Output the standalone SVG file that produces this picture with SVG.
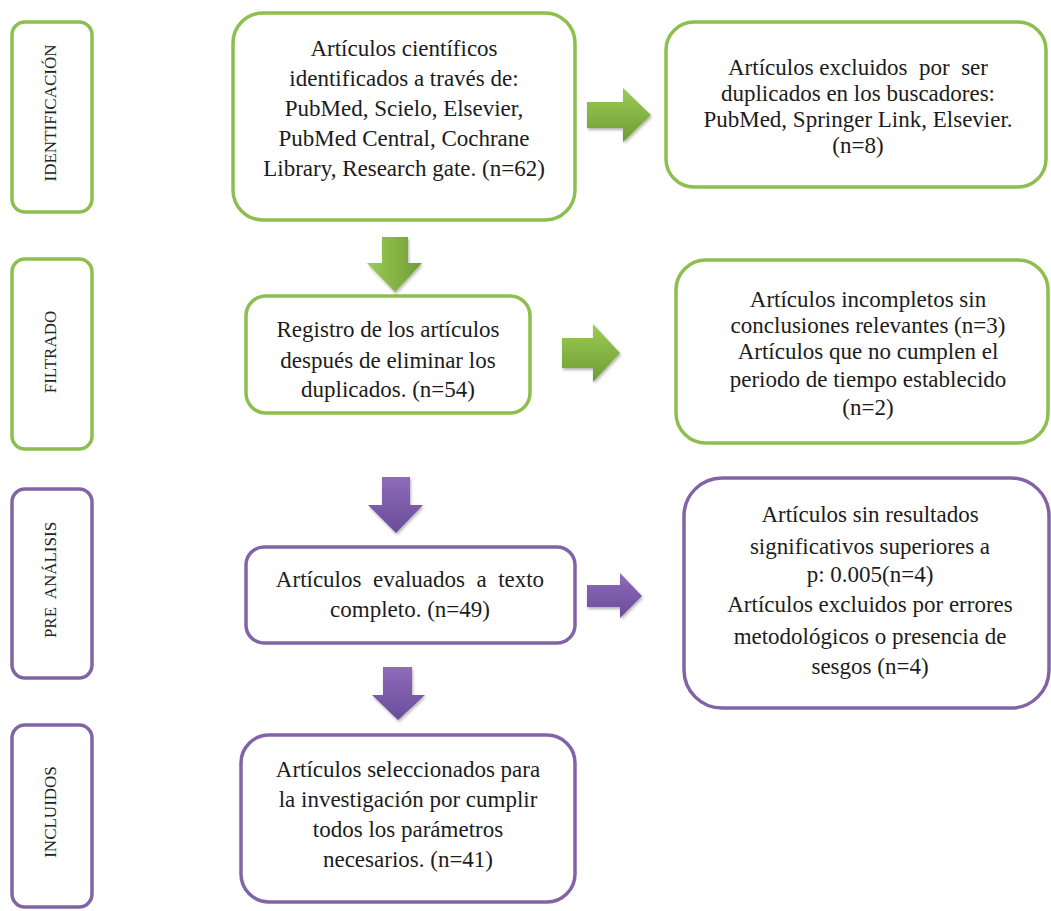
<svg xmlns="http://www.w3.org/2000/svg" width="1051" height="911" viewBox="0 0 1051 911">
<defs>
<linearGradient id="gG" x1="0" y1="0" x2="0" y2="1"><stop offset="0" stop-color="#9ccb55"/><stop offset="1" stop-color="#6f9c33"/></linearGradient>
<linearGradient id="gGd" x1="0" y1="0" x2="1" y2="0"><stop offset="0" stop-color="#9ccb55"/><stop offset="1" stop-color="#6f9c33"/></linearGradient>
<linearGradient id="gP" x1="0" y1="0" x2="0" y2="1"><stop offset="0" stop-color="#8d6cba"/><stop offset="1" stop-color="#6a4c9a"/></linearGradient>
<filter id="sh" x="-20%" y="-20%" width="150%" height="150%"><feDropShadow dx="1" dy="2" stdDeviation="1.5" flood-color="#000" flood-opacity="0.3"/></filter>
<style>
.g{fill:#fff;stroke:#8dbf4e;stroke-width:3.5}
.p{fill:#fff;stroke:#8264a6;stroke-width:3.5}
.t{font-family:"Liberation Serif","Times New Roman",serif;font-size:23px;fill:#1c1c1c;text-anchor:middle;white-space:pre}
.l{font-family:"Liberation Serif","Times New Roman",serif;font-size:17px;fill:#222;text-anchor:middle;white-space:pre}
</style>
</defs>
<g id="label-identificacion"><rect class="g" x="12" y="22" width="80" height="190" rx="13"/><text class="l" transform="translate(56,113) rotate(-90)">IDENTIFICACIÓN</text></g>
<g id="label-filtrado"><rect class="g" x="12" y="259" width="80" height="190" rx="13"/><text class="l" transform="translate(56,352) rotate(-90)">FILTRADO</text></g>
<g id="label-preanalisis"><rect class="p" x="12" y="489" width="80" height="189" rx="13"/><text class="l" transform="translate(56,580) rotate(-90)">PRE  ANÁLISIS</text></g>
<g id="label-incluidos"><rect class="p" x="12" y="725" width="80" height="182" rx="13"/><text class="l" transform="translate(56,812) rotate(-90)">INCLUIDOS</text></g>

<g id="node-identificados"><rect class="g" x="233" y="13" width="342" height="207" rx="30"/>
<text class="t"><tspan x="404" y="56">Artículos científicos</tspan><tspan x="404" y="86">identificados a través de:</tspan><tspan x="404" y="116">PubMed, Scielo, Elsevier,</tspan><tspan x="404" y="146">PubMed Central, Cochrane</tspan><tspan x="404" y="176">Library, Research gate. (n=62)</tspan></text></g>

<g id="node-duplicados"><rect class="g" x="666" y="22" width="380" height="165" rx="28"/>
<text class="t"><tspan x="858" y="75">Artículos excluidos  por  ser</tspan><tspan x="858" y="101">duplicados en los buscadores:</tspan><tspan x="858" y="127">PubMed, Springer Link, Elsevier.</tspan><tspan x="858" y="153">(n=8)</tspan></text></g>

<g id="node-registro"><rect class="g" x="246" y="296" width="284" height="117" rx="20"/>
<text class="t"><tspan x="388" y="337">Registro de los artículos</tspan><tspan x="388" y="368">después de eliminar los</tspan><tspan x="388" y="397">duplicados. (n=54)</tspan></text></g>

<g id="node-incompletos"><rect class="g" x="676" y="260" width="372" height="183" rx="30"/>
<text class="t"><tspan x="868" y="307">Artículos incompletos sin</tspan><tspan x="868" y="333">conclusiones relevantes (n=3)</tspan><tspan x="868" y="359">Artículos que no cumplen el</tspan><tspan x="868" y="387">periodo de tiempo establecido</tspan><tspan x="868" y="415">(n=2)</tspan></text></g>

<g id="node-evaluados"><rect class="p" x="246" y="547" width="329" height="96" rx="18"/>
<text class="t"><tspan x="410" y="587">Artículos  evaluados  a  texto</tspan><tspan x="410" y="617">completo. (n=49)</tspan></text></g>

<g id="node-sinresultados"><rect class="p" x="684" y="478" width="365" height="230" rx="38"/>
<text class="t"><tspan x="870" y="522">Artículos sin resultados</tspan><tspan x="870" y="554">significativos superiores a</tspan><tspan x="870" y="582">p: 0.005(n=4)</tspan><tspan x="870" y="612">Artículos excluidos por errores</tspan><tspan x="870" y="644">metodológicos o presencia de</tspan><tspan x="870" y="674">sesgos (n=4)</tspan></text></g>

<g id="node-seleccionados"><rect class="p" x="241" y="735" width="334" height="167" rx="28"/>
<text class="t"><tspan x="408" y="777">Artículos seleccionados para</tspan><tspan x="408" y="807">la investigación por cumplir</tspan><tspan x="408" y="837">todos los parámetros</tspan><tspan x="408" y="867">necesarios. (n=41)</tspan></text></g>

<g id="connectors" filter="url(#sh)">
<polygon fill="url(#gG)" points="587,102 623,102 623,88 651,115 623,142 623,128 587,128"/>
<polygon fill="url(#gGd)" points="382,237 408,237 408,263 422,263 395,292 367,263 382,263"/>
<polygon fill="url(#gG)" points="562,338 593,338 593,324 620,353 593,382 593,368 562,368"/>
<polygon fill="url(#gP)" points="382,477 410,477 410,505 423,505 396,533 368,505 382,505"/>
<polygon fill="url(#gP)" points="587,585 620,585 620,573 642,596 620,618 620,607 587,607"/>
<polygon fill="url(#gP)" points="383,667 412,667 412,695 425,695 398,720 372,695 383,695"/>
</g>
</svg>
